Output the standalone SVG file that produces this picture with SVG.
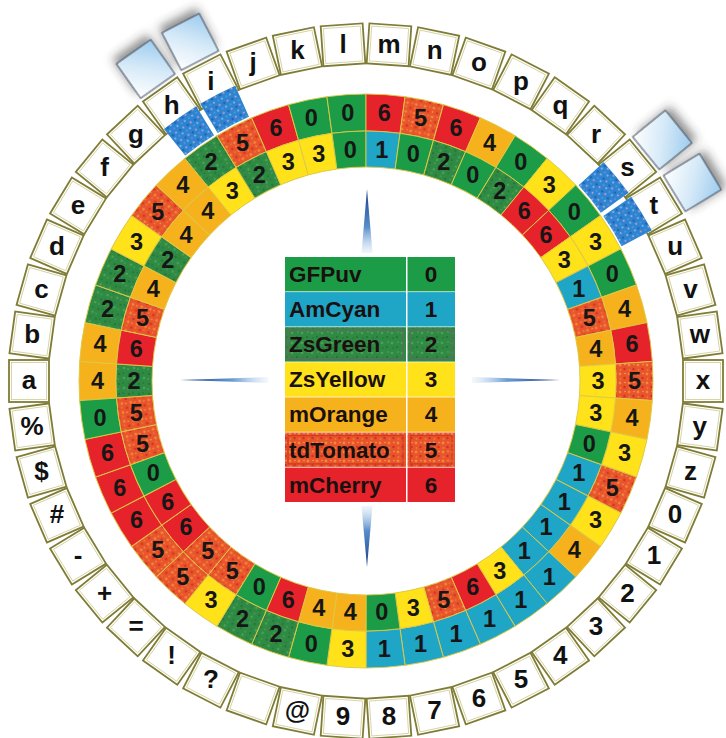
<svg xmlns="http://www.w3.org/2000/svg" width="726" height="738" viewBox="0 0 726 738">
<style>
.L{font-family:"Liberation Sans",Arial,sans-serif;font-weight:bold;font-size:26px;fill:#111;text-anchor:middle}
.D{font-family:"Liberation Sans",Arial,sans-serif;font-weight:bold;font-size:23.5px;fill:#161616;text-anchor:middle}
.T{font-family:"Liberation Sans",Arial,sans-serif;font-weight:bold;font-size:22.5px;fill:#1a1010}
.TV{font-family:"Liberation Sans",Arial,sans-serif;font-weight:bold;font-size:22.5px;fill:#1a1010;text-anchor:middle}
.c0{fill:#1c9c46}.c1{fill:#1fa5c5}.c2{fill:url(#pZs)}.c3{fill:#ffe21a}.c4{fill:#f6b21c}.c5{fill:url(#pTd)}.c6{fill:#e6232b}
.cell{stroke:#dcc845;stroke-width:0.9}
</style>
<defs>
<pattern id="pZs" width="10" height="10" patternUnits="userSpaceOnUse"><rect width="10" height="10" fill="#2f8a43"/><circle cx="2" cy="3" r="1.3" fill="#4aa257"/><circle cx="7" cy="7" r="1.1" fill="#22703a"/><circle cx="8" cy="2" r="0.8" fill="#5aa860"/><circle cx="3" cy="8" r="0.9" fill="#27783a"/></pattern>
<pattern id="pTd" width="9" height="9" patternUnits="userSpaceOnUse"><rect width="9" height="9" fill="#e8542c"/><circle cx="2" cy="2" r="1.4" fill="#f2883a"/><circle cx="6.5" cy="6" r="1.2" fill="#d62e22"/><circle cx="7" cy="1.5" r="0.8" fill="#f4a050"/><circle cx="2.5" cy="7" r="0.9" fill="#f07a34"/></pattern>
<pattern id="pBl" width="9" height="9" patternUnits="userSpaceOnUse"><rect width="9" height="9" fill="#2f84d2"/><circle cx="2" cy="2" r="1" fill="#8bbde9"/><circle cx="6.5" cy="6" r="0.9" fill="#d9a6c8"/><circle cx="6" cy="2" r="1.2" fill="#1c64b0"/><circle cx="2" cy="7" r="0.8" fill="#6aa8e0"/></pattern>
<linearGradient id="gLB" x1="0" y1="0" x2="1" y2="1"><stop offset="0" stop-color="#ffffff"/><stop offset="0.5" stop-color="#d6eaf8"/><stop offset="1" stop-color="#9dcbee"/></linearGradient>
<linearGradient id="gUp" x1="0" y1="0" x2="0" y2="1"><stop offset="0" stop-color="#163c8a"/><stop offset="0.6" stop-color="#5a8fcc"/><stop offset="1" stop-color="#d6e7f6" stop-opacity="0.4"/></linearGradient>
<linearGradient id="gDn" x1="0" y1="1" x2="0" y2="0"><stop offset="0" stop-color="#163c8a"/><stop offset="0.6" stop-color="#5a8fcc"/><stop offset="1" stop-color="#d6e7f6" stop-opacity="0.4"/></linearGradient>
<linearGradient id="gLf" x1="0" y1="0" x2="1" y2="0"><stop offset="0" stop-color="#163c8a"/><stop offset="0.6" stop-color="#6b9bd2"/><stop offset="1" stop-color="#d6e7f6" stop-opacity="0.3"/></linearGradient>
<linearGradient id="gRt" x1="1" y1="0" x2="0" y2="0"><stop offset="0" stop-color="#163c8a"/><stop offset="0.6" stop-color="#6b9bd2"/><stop offset="1" stop-color="#d6e7f6" stop-opacity="0.3"/></linearGradient>
<filter id="sh" x="-60%" y="-60%" width="220%" height="220%"><feGaussianBlur in="SourceAlpha" stdDeviation="5"/><feOffset dx="6" dy="0" result="b"/><feFlood flood-color="#333" flood-opacity="0.55"/><feComposite in2="b" operator="in"/><feMerge><feMergeNode/><feMergeNode in="SourceGraphic"/></feMerge></filter>
<path id="so" class="cell" d="M249.42,-17.06 L286.33,-19.585 A287,287 0 0 1 286.33,19.585 L249.42,17.06 A250,250 0 0 0 249.42,-17.06 Z"/>
<path id="si" class="cell" d="M213.5,-14.603 L249.42,-17.06 A250,250 0 0 1 249.42,17.06 L213.5,14.603 A214,214 0 0 0 213.5,-14.603 Z"/>
<g id="bx"><rect x="317" y="-21" width="40" height="42" fill="#fff" stroke="#7f7c35" stroke-width="1.8"/><rect x="319.5" y="-18.5" width="35" height="37" fill="none" stroke="#cfcc95" stroke-width="0.8"/></g>
<path id="db" d="M288.46,-17.64 L322.4,-19.72 A323,323 0 0 1 322.4,19.72 L288.46,17.64 A289,289 0 0 0 288.46,-17.64 Z" fill="url(#pBl)"/>
<rect id="lb" x="361" y="-21" width="42" height="42" fill="url(#gLB)" stroke="#3c4a5c" stroke-width="1" filter="url(#sh)"/>
</defs>
<rect width="726" height="738" fill="#fff"/>
<g id="connectors">
<polygon points="367,189 372.5,253 361.5,253" fill="url(#gUp)"/>
<polygon points="367,567 372.5,506 361.5,506" fill="url(#gDn)"/>
<polygon points="180,380 268,377 268,383" fill="url(#gLf)"/>
<polygon points="560,380 472,377 472,383" fill="url(#gRt)"/>
</g>
<g id="wheel">
<g id="node-a" transform="translate(366 381) rotate(180)"><use href="#bx"/><use href="#so" class="c4"/><use href="#si" class="c2"/><text class="L" transform="translate(337 0) rotate(-180)" y="8">a</text><text class="D" transform="translate(268.5 0) rotate(-180)" y="8">4</text><text class="D" transform="translate(232 0) rotate(-180)" y="8">2</text></g>
<g id="node-b" transform="translate(366 381) rotate(187.83)"><use href="#bx"/><use href="#so" class="c4"/><use href="#si" class="c6"/><text class="L" transform="translate(337 0) rotate(-187.83)" y="8">b</text><text class="D" transform="translate(268.5 0) rotate(-187.83)" y="8">4</text><text class="D" transform="translate(232 0) rotate(-187.83)" y="8">6</text></g>
<g id="node-c" transform="translate(366 381) rotate(195.65)"><use href="#bx"/><use href="#so" class="c2"/><use href="#si" class="c5"/><text class="L" transform="translate(337 0) rotate(-195.65)" y="8">c</text><text class="D" transform="translate(268.5 0) rotate(-195.65)" y="8">2</text><text class="D" transform="translate(232 0) rotate(-195.65)" y="8">5</text></g>
<g id="node-d" transform="translate(366 381) rotate(203.48)"><use href="#bx"/><use href="#so" class="c2"/><use href="#si" class="c4"/><text class="L" transform="translate(337 0) rotate(-203.48)" y="8">d</text><text class="D" transform="translate(268.5 0) rotate(-203.48)" y="8">2</text><text class="D" transform="translate(232 0) rotate(-203.48)" y="8">4</text></g>
<g id="node-e" transform="translate(366 381) rotate(211.30)"><use href="#bx"/><use href="#so" class="c3"/><use href="#si" class="c2"/><text class="L" transform="translate(337 0) rotate(-211.30)" y="8">e</text><text class="D" transform="translate(268.5 0) rotate(-211.30)" y="8">3</text><text class="D" transform="translate(232 0) rotate(-211.30)" y="8">2</text></g>
<g id="node-f" transform="translate(366 381) rotate(219.13)"><use href="#bx"/><use href="#so" class="c5"/><use href="#si" class="c4"/><text class="L" transform="translate(337 0) rotate(-219.13)" y="8">f</text><text class="D" transform="translate(268.5 0) rotate(-219.13)" y="8">5</text><text class="D" transform="translate(232 0) rotate(-219.13)" y="8">4</text></g>
<g id="node-g" transform="translate(366 381) rotate(226.96)"><use href="#bx"/><use href="#so" class="c4"/><use href="#si" class="c4"/><text class="L" transform="translate(337 0) rotate(-226.96)" y="8">g</text><text class="D" transform="translate(268.5 0) rotate(-226.96)" y="8">4</text><text class="D" transform="translate(232 0) rotate(-226.96)" y="8">4</text></g>
<g id="node-h" transform="translate(366 381) rotate(234.78)"><use href="#bx"/><use href="#so" class="c2"/><use href="#si" class="c3"/><text class="L" transform="translate(337 0) rotate(-234.78)" y="8">h</text><text class="D" transform="translate(268.5 0) rotate(-234.78)" y="8">2</text><text class="D" transform="translate(232 0) rotate(-234.78)" y="8">3</text></g>
<g id="node-i" transform="translate(366 381) rotate(242.61)"><use href="#bx"/><use href="#so" class="c5"/><use href="#si" class="c2"/><text class="L" transform="translate(337 0) rotate(-242.61)" y="8">i</text><text class="D" transform="translate(268.5 0) rotate(-242.61)" y="8">5</text><text class="D" transform="translate(232 0) rotate(-242.61)" y="8">2</text></g>
<g id="node-j" transform="translate(366 381) rotate(250.43)"><use href="#bx"/><use href="#so" class="c6"/><use href="#si" class="c3"/><text class="L" transform="translate(337 0) rotate(-250.43)" y="8">j</text><text class="D" transform="translate(268.5 0) rotate(-250.43)" y="8">6</text><text class="D" transform="translate(232 0) rotate(-250.43)" y="8">3</text></g>
<g id="node-k" transform="translate(366 381) rotate(258.26)"><use href="#bx"/><use href="#so" class="c0"/><use href="#si" class="c3"/><text class="L" transform="translate(337 0) rotate(-258.26)" y="8">k</text><text class="D" transform="translate(268.5 0) rotate(-258.26)" y="8">0</text><text class="D" transform="translate(232 0) rotate(-258.26)" y="8">3</text></g>
<g id="node-l" transform="translate(366 381) rotate(266.09)"><use href="#bx"/><use href="#so" class="c0"/><use href="#si" class="c0"/><text class="L" transform="translate(337 0) rotate(-266.09)" y="8">l</text><text class="D" transform="translate(268.5 0) rotate(-266.09)" y="8">0</text><text class="D" transform="translate(232 0) rotate(-266.09)" y="8">0</text></g>
<g id="node-m" transform="translate(366 381) rotate(273.91)"><use href="#bx"/><use href="#so" class="c6"/><use href="#si" class="c1"/><text class="L" transform="translate(337 0) rotate(-273.91)" y="8">m</text><text class="D" transform="translate(268.5 0) rotate(-273.91)" y="8">6</text><text class="D" transform="translate(232 0) rotate(-273.91)" y="8">1</text></g>
<g id="node-n" transform="translate(366 381) rotate(281.74)"><use href="#bx"/><use href="#so" class="c5"/><use href="#si" class="c0"/><text class="L" transform="translate(337 0) rotate(-281.74)" y="8">n</text><text class="D" transform="translate(268.5 0) rotate(-281.74)" y="8">5</text><text class="D" transform="translate(232 0) rotate(-281.74)" y="8">0</text></g>
<g id="node-o" transform="translate(366 381) rotate(289.57)"><use href="#bx"/><use href="#so" class="c6"/><use href="#si" class="c2"/><text class="L" transform="translate(337 0) rotate(-289.57)" y="8">o</text><text class="D" transform="translate(268.5 0) rotate(-289.57)" y="8">6</text><text class="D" transform="translate(232 0) rotate(-289.57)" y="8">2</text></g>
<g id="node-p" transform="translate(366 381) rotate(297.39)"><use href="#bx"/><use href="#so" class="c4"/><use href="#si" class="c0"/><text class="L" transform="translate(337 0) rotate(-297.39)" y="8">p</text><text class="D" transform="translate(268.5 0) rotate(-297.39)" y="8">4</text><text class="D" transform="translate(232 0) rotate(-297.39)" y="8">0</text></g>
<g id="node-q" transform="translate(366 381) rotate(305.22)"><use href="#bx"/><use href="#so" class="c0"/><use href="#si" class="c2"/><text class="L" transform="translate(337 0) rotate(-305.22)" y="8">q</text><text class="D" transform="translate(268.5 0) rotate(-305.22)" y="8">0</text><text class="D" transform="translate(232 0) rotate(-305.22)" y="8">2</text></g>
<g id="node-r" transform="translate(366 381) rotate(313.04)"><use href="#bx"/><use href="#so" class="c3"/><use href="#si" class="c6"/><text class="L" transform="translate(337 0) rotate(-313.04)" y="8">r</text><text class="D" transform="translate(268.5 0) rotate(-313.04)" y="8">3</text><text class="D" transform="translate(232 0) rotate(-313.04)" y="8">6</text></g>
<g id="node-s" transform="translate(366 381) rotate(320.87)"><use href="#bx"/><use href="#so" class="c0"/><use href="#si" class="c6"/><text class="L" transform="translate(337 0) rotate(-320.87)" y="8">s</text><text class="D" transform="translate(268.5 0) rotate(-320.87)" y="8">0</text><text class="D" transform="translate(232 0) rotate(-320.87)" y="8">6</text></g>
<g id="node-t" transform="translate(366 381) rotate(328.70)"><use href="#bx"/><use href="#so" class="c3"/><use href="#si" class="c3"/><text class="L" transform="translate(337 0) rotate(-328.70)" y="8">t</text><text class="D" transform="translate(268.5 0) rotate(-328.70)" y="8">3</text><text class="D" transform="translate(232 0) rotate(-328.70)" y="8">3</text></g>
<g id="node-u" transform="translate(366 381) rotate(336.52)"><use href="#bx"/><use href="#so" class="c0"/><use href="#si" class="c1"/><text class="L" transform="translate(337 0) rotate(-336.52)" y="8">u</text><text class="D" transform="translate(268.5 0) rotate(-336.52)" y="8">0</text><text class="D" transform="translate(232 0) rotate(-336.52)" y="8">1</text></g>
<g id="node-v" transform="translate(366 381) rotate(344.35)"><use href="#bx"/><use href="#so" class="c4"/><use href="#si" class="c5"/><text class="L" transform="translate(337 0) rotate(-344.35)" y="8">v</text><text class="D" transform="translate(268.5 0) rotate(-344.35)" y="8">4</text><text class="D" transform="translate(232 0) rotate(-344.35)" y="8">5</text></g>
<g id="node-w" transform="translate(366 381) rotate(352.17)"><use href="#bx"/><use href="#so" class="c6"/><use href="#si" class="c4"/><text class="L" transform="translate(337 0) rotate(-352.17)" y="8">w</text><text class="D" transform="translate(268.5 0) rotate(-352.17)" y="8">6</text><text class="D" transform="translate(232 0) rotate(-352.17)" y="8">4</text></g>
<g id="node-x" transform="translate(366 381) rotate(360)"><use href="#bx"/><use href="#so" class="c5"/><use href="#si" class="c3"/><text class="L" transform="translate(337 0) rotate(-360)" y="8">x</text><text class="D" transform="translate(268.5 0) rotate(-360)" y="8">5</text><text class="D" transform="translate(232 0) rotate(-360)" y="8">3</text></g>
<g id="node-y" transform="translate(366 381) rotate(367.83)"><use href="#bx"/><use href="#so" class="c4"/><use href="#si" class="c3"/><text class="L" transform="translate(337 0) rotate(-367.83)" y="8">y</text><text class="D" transform="translate(268.5 0) rotate(-367.83)" y="8">4</text><text class="D" transform="translate(232 0) rotate(-367.83)" y="8">3</text></g>
<g id="node-z" transform="translate(366 381) rotate(375.65)"><use href="#bx"/><use href="#so" class="c3"/><use href="#si" class="c0"/><text class="L" transform="translate(337 0) rotate(-375.65)" y="8">z</text><text class="D" transform="translate(268.5 0) rotate(-375.65)" y="8">3</text><text class="D" transform="translate(232 0) rotate(-375.65)" y="8">0</text></g>
<g id="node-d0" transform="translate(366 381) rotate(383.48)"><use href="#bx"/><use href="#so" class="c5"/><use href="#si" class="c1"/><text class="L" transform="translate(337 0) rotate(-383.48)" y="8">0</text><text class="D" transform="translate(268.5 0) rotate(-383.48)" y="8">5</text><text class="D" transform="translate(232 0) rotate(-383.48)" y="8">1</text></g>
<g id="node-d1" transform="translate(366 381) rotate(391.30)"><use href="#bx"/><use href="#so" class="c3"/><use href="#si" class="c1"/><text class="L" transform="translate(337 0) rotate(-391.30)" y="8">1</text><text class="D" transform="translate(268.5 0) rotate(-391.30)" y="8">3</text><text class="D" transform="translate(232 0) rotate(-391.30)" y="8">1</text></g>
<g id="node-d2" transform="translate(366 381) rotate(399.13)"><use href="#bx"/><use href="#so" class="c4"/><use href="#si" class="c1"/><text class="L" transform="translate(337 0) rotate(-399.13)" y="8">2</text><text class="D" transform="translate(268.5 0) rotate(-399.13)" y="8">4</text><text class="D" transform="translate(232 0) rotate(-399.13)" y="8">1</text></g>
<g id="node-d3" transform="translate(366 381) rotate(406.96)"><use href="#bx"/><use href="#so" class="c1"/><use href="#si" class="c1"/><text class="L" transform="translate(337 0) rotate(-406.96)" y="8">3</text><text class="D" transform="translate(268.5 0) rotate(-406.96)" y="8">1</text><text class="D" transform="translate(232 0) rotate(-406.96)" y="8">1</text></g>
<g id="node-d4" transform="translate(366 381) rotate(414.78)"><use href="#bx"/><use href="#so" class="c1"/><use href="#si" class="c3"/><text class="L" transform="translate(337 0) rotate(-414.78)" y="8">4</text><text class="D" transform="translate(268.5 0) rotate(-414.78)" y="8">1</text><text class="D" transform="translate(232 0) rotate(-414.78)" y="8">3</text></g>
<g id="node-d5" transform="translate(366 381) rotate(422.61)"><use href="#bx"/><use href="#so" class="c1"/><use href="#si" class="c6"/><text class="L" transform="translate(337 0) rotate(-422.61)" y="8">5</text><text class="D" transform="translate(268.5 0) rotate(-422.61)" y="8">1</text><text class="D" transform="translate(232 0) rotate(-422.61)" y="8">6</text></g>
<g id="node-d6" transform="translate(366 381) rotate(430.43)"><use href="#bx"/><use href="#so" class="c1"/><use href="#si" class="c5"/><text class="L" transform="translate(337 0) rotate(-430.43)" y="8">6</text><text class="D" transform="translate(268.5 0) rotate(-430.43)" y="8">1</text><text class="D" transform="translate(232 0) rotate(-430.43)" y="8">5</text></g>
<g id="node-d7" transform="translate(366 381) rotate(438.26)"><use href="#bx"/><use href="#so" class="c1"/><use href="#si" class="c3"/><text class="L" transform="translate(337 0) rotate(-438.26)" y="8">7</text><text class="D" transform="translate(268.5 0) rotate(-438.26)" y="8">1</text><text class="D" transform="translate(232 0) rotate(-438.26)" y="8">3</text></g>
<g id="node-d8" transform="translate(366 381) rotate(446.09)"><use href="#bx"/><use href="#so" class="c1"/><use href="#si" class="c0"/><text class="L" transform="translate(337 0) rotate(-446.09)" y="8">8</text><text class="D" transform="translate(268.5 0) rotate(-446.09)" y="8">1</text><text class="D" transform="translate(232 0) rotate(-446.09)" y="8">0</text></g>
<g id="node-d9" transform="translate(366 381) rotate(453.91)"><use href="#bx"/><use href="#so" class="c3"/><use href="#si" class="c4"/><text class="L" transform="translate(337 0) rotate(-453.91)" y="8">9</text><text class="D" transform="translate(268.5 0) rotate(-453.91)" y="8">3</text><text class="D" transform="translate(232 0) rotate(-453.91)" y="8">4</text></g>
<g id="node-at" transform="translate(366 381) rotate(461.74)"><use href="#bx"/><use href="#so" class="c0"/><use href="#si" class="c4"/><text class="L" transform="translate(337 0) rotate(-461.74)" y="8">@</text><text class="D" transform="translate(268.5 0) rotate(-461.74)" y="8">0</text><text class="D" transform="translate(232 0) rotate(-461.74)" y="8">4</text></g>
<g id="node-blank" transform="translate(366 381) rotate(469.57)"><use href="#bx"/><use href="#so" class="c2"/><use href="#si" class="c6"/><text class="D" transform="translate(268.5 0) rotate(-469.57)" y="8">2</text><text class="D" transform="translate(232 0) rotate(-469.57)" y="8">6</text></g>
<g id="node-question" transform="translate(366 381) rotate(477.39)"><use href="#bx"/><use href="#so" class="c2"/><use href="#si" class="c0"/><text class="L" transform="translate(337 0) rotate(-477.39)" y="8">?</text><text class="D" transform="translate(268.5 0) rotate(-477.39)" y="8">2</text><text class="D" transform="translate(232 0) rotate(-477.39)" y="8">0</text></g>
<g id="node-excl" transform="translate(366 381) rotate(485.22)"><use href="#bx"/><use href="#so" class="c3"/><use href="#si" class="c5"/><text class="L" transform="translate(337 0) rotate(-485.22)" y="8">!</text><text class="D" transform="translate(268.5 0) rotate(-485.22)" y="8">3</text><text class="D" transform="translate(232 0) rotate(-485.22)" y="8">5</text></g>
<g id="node-equals" transform="translate(366 381) rotate(493.04)"><use href="#bx"/><use href="#so" class="c5"/><use href="#si" class="c5"/><text class="L" transform="translate(337 0) rotate(-493.04)" y="8">=</text><text class="D" transform="translate(268.5 0) rotate(-493.04)" y="8">5</text><text class="D" transform="translate(232 0) rotate(-493.04)" y="8">5</text></g>
<g id="node-plus" transform="translate(366 381) rotate(500.87)"><use href="#bx"/><use href="#so" class="c5"/><use href="#si" class="c6"/><text class="L" transform="translate(337 0) rotate(-500.87)" y="8">+</text><text class="D" transform="translate(268.5 0) rotate(-500.87)" y="8">5</text><text class="D" transform="translate(232 0) rotate(-500.87)" y="8">6</text></g>
<g id="node-minus" transform="translate(366 381) rotate(508.70)"><use href="#bx"/><use href="#so" class="c6"/><use href="#si" class="c6"/><text class="L" transform="translate(337 0) rotate(-508.70)" y="8">-</text><text class="D" transform="translate(268.5 0) rotate(-508.70)" y="8">6</text><text class="D" transform="translate(232 0) rotate(-508.70)" y="8">6</text></g>
<g id="node-hash" transform="translate(366 381) rotate(516.52)"><use href="#bx"/><use href="#so" class="c6"/><use href="#si" class="c0"/><text class="L" transform="translate(337 0) rotate(-516.52)" y="8">#</text><text class="D" transform="translate(268.5 0) rotate(-516.52)" y="8">6</text><text class="D" transform="translate(232 0) rotate(-516.52)" y="8">0</text></g>
<g id="node-dollar" transform="translate(366 381) rotate(524.35)"><use href="#bx"/><use href="#so" class="c6"/><use href="#si" class="c5"/><text class="L" transform="translate(337 0) rotate(-524.35)" y="8">$</text><text class="D" transform="translate(268.5 0) rotate(-524.35)" y="8">6</text><text class="D" transform="translate(232 0) rotate(-524.35)" y="8">5</text></g>
<g id="node-percent" transform="translate(366 381) rotate(532.17)"><use href="#bx"/><use href="#so" class="c0"/><use href="#si" class="c5"/><text class="L" transform="translate(337 0) rotate(-532.17)" y="8">%</text><text class="D" transform="translate(268.5 0) rotate(-532.17)" y="8">0</text><text class="D" transform="translate(232 0) rotate(-532.17)" y="8">5</text></g>
</g>
<g id="markers">
<g transform="translate(366 381) rotate(234.78)"><use href="#db"/><use href="#lb"/></g>
<g transform="translate(366 381) rotate(242.61)"><use href="#db"/><use href="#lb"/></g>
<g transform="translate(366 381) rotate(320.87)"><use href="#db"/><use href="#lb"/></g>
<g transform="translate(366 381) rotate(328.70)"><use href="#db"/><use href="#lb"/></g>
</g>
<g id="legend">
<rect x="285" y="257" width="121" height="34.4" class="c0"/><rect x="407.5" y="257" width="47.5" height="34.4" class="c0"/>
<text class="T" x="289" y="282">GFPuv</text><text class="TV" x="431" y="282">0</text>
<rect x="285" y="292.1" width="121" height="34.4" class="c1"/><rect x="407.5" y="292.1" width="47.5" height="34.4" class="c1"/>
<text class="T" x="289" y="317.1">AmCyan</text><text class="TV" x="431" y="317.1">1</text>
<rect x="285" y="327.2" width="121" height="34.4" class="c2"/><rect x="407.5" y="327.2" width="47.5" height="34.4" class="c2"/>
<rect x="288" y="330.2" width="115" height="28.4" fill="none" stroke="#5d6e5d" stroke-width="1.5"/><rect x="410.5" y="330.2" width="41.5" height="28.4" fill="none" stroke="#5d6e5d" stroke-width="1.5"/>
<text class="T" x="289" y="352.2">ZsGreen</text><text class="TV" x="431" y="352.2">2</text>
<rect x="285" y="362.3" width="121" height="34.4" class="c3"/><rect x="407.5" y="362.3" width="47.5" height="34.4" class="c3"/>
<text class="T" x="289" y="387.3">ZsYellow</text><text class="TV" x="431" y="387.3">3</text>
<rect x="285" y="397.4" width="121" height="34.4" class="c4"/><rect x="407.5" y="397.4" width="47.5" height="34.4" class="c4"/>
<text class="T" x="289" y="422.4">mOrange</text><text class="TV" x="431" y="422.4">4</text>
<rect x="285" y="432.5" width="121" height="34.4" class="c5"/><rect x="407.5" y="432.5" width="47.5" height="34.4" class="c5"/>
<rect x="288" y="435.5" width="115" height="28.4" fill="none" stroke="#d23a20" stroke-width="1.2"/><rect x="410.5" y="435.5" width="41.5" height="28.4" fill="none" stroke="#d23a20" stroke-width="1.2"/>
<text class="T" x="289" y="457.5">tdTomato</text><text class="TV" x="431" y="457.5">5</text>
<rect x="285" y="467.6" width="121" height="34.4" class="c6"/><rect x="407.5" y="467.6" width="47.5" height="34.4" class="c6"/>
<text class="T" x="289" y="492.6">mCherry</text><text class="TV" x="431" y="492.6">6</text>
</g>
</svg>
